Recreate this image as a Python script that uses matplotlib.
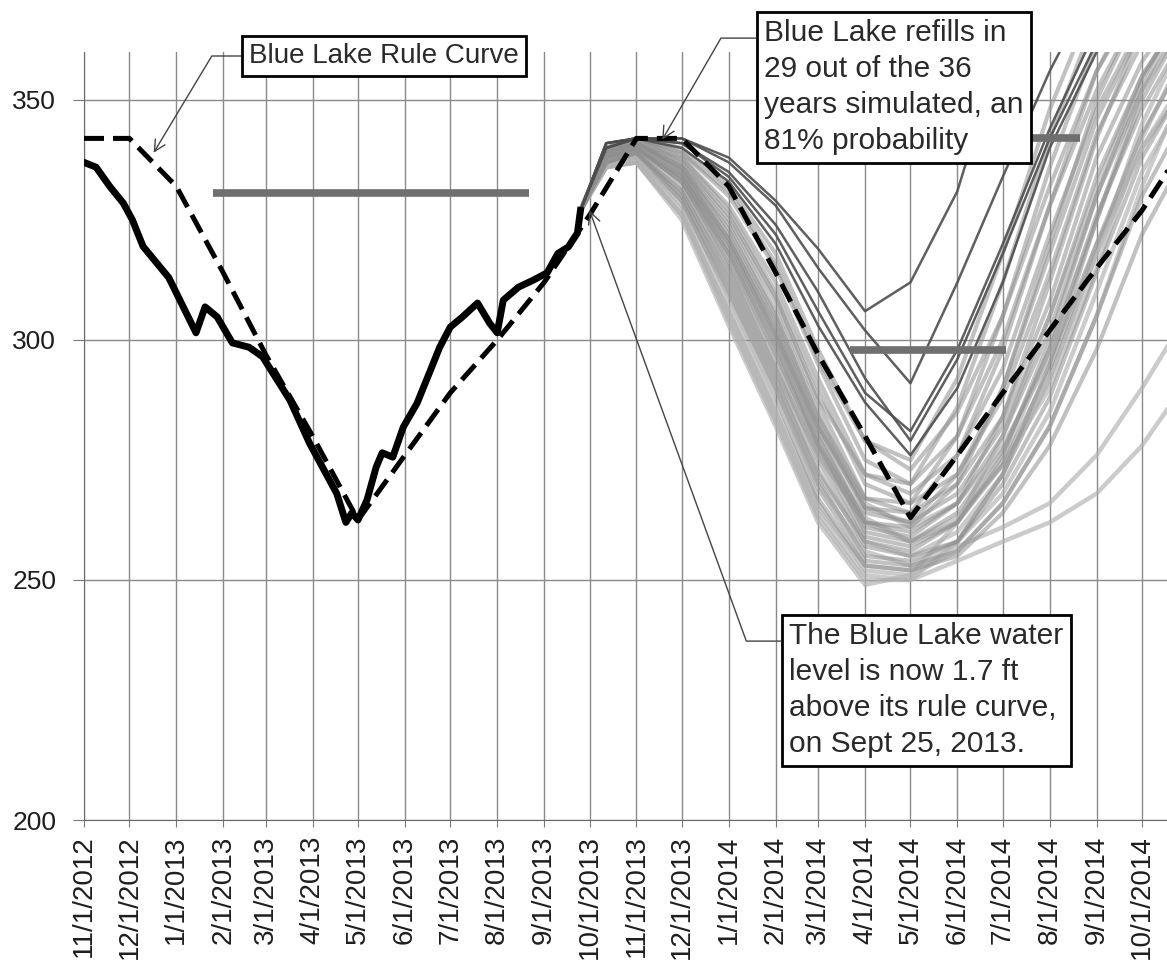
import matplotlib
matplotlib.use('Agg')
import matplotlib.pyplot as plt
import pandas as pd

plt.rcParams['font.family'] = ['Liberation Sans', 'DejaVu Sans']

# observed Blue Lake water level (ft)
obs_dates = ['2012-11-01', '2012-11-09', '2012-11-18', '2012-11-27', '2012-12-03', '2012-12-10',
             '2012-12-27', '2013-01-14', '2013-01-20', '2013-01-28', '2013-02-07', '2013-02-18',
             '2013-02-27', '2013-03-17', '2013-03-30', '2013-04-17', '2013-04-23', '2013-04-27',
             '2013-05-01', '2013-05-07', '2013-05-13', '2013-05-17', '2013-05-24', '2013-05-31',
             '2013-06-09', '2013-06-17', '2013-06-24', '2013-07-01', '2013-07-09', '2013-07-19',
             '2013-07-27', '2013-08-01', '2013-08-05', '2013-08-15', '2013-08-25', '2013-09-03',
             '2013-09-10', '2013-09-17', '2013-09-23', '2013-09-25']
obs_level = [337, 336, 332, 328.5, 325, 319.5,
             313, 301.5, 306.9, 304.8, 299.4, 298.5,
             296.5, 287.5, 278.5, 268, 262, 264,
             262.5, 266.7, 273.5, 276.5, 275.6, 281.9,
             286.8, 293, 298.5, 302.7, 304.8, 307.7,
             303.5, 301.5, 308.3, 311, 312.5, 314,
             318, 319.4, 322.3, 327]

# rule curve (ft)
rule_dates = ['2012-11-01', '2012-12-01', '2013-01-01', '2013-02-01', '2013-03-01', '2013-04-01',
              '2013-05-01', '2013-06-01', '2013-07-01', '2013-08-01', '2013-09-01', '2013-10-01',
              '2013-11-01', '2013-12-01', '2014-01-01', '2014-02-01', '2014-03-01', '2014-04-01',
              '2014-05-01', '2014-06-01', '2014-07-01', '2014-08-01', '2014-09-01', '2014-10-01',
              '2014-11-01']
rule_level = [342, 342, 332, 314, 297, 280,
              262.5, 276, 289, 300, 312, 326,
              342, 342, 332, 314, 297, 280,
              263, 276, 289, 302, 315, 327,
              342]

# simulated water year 2014, one row per historical year
sim_dates = ['2013-09-25', '2013-10-12', '2013-11-01', '2013-12-01', '2014-01-01', '2014-02-01',
             '2014-03-01', '2014-04-01', '2014-05-01', '2014-06-01', '2014-07-01', '2014-08-01',
             '2014-09-01', '2014-10-01', '2014-11-01']
sim_upper = [
    [327, 341, 342, 342, 338, 329, 319, 306, 312, 331, 362, 380, 380, 380, 380],
    [327, 341, 342, 342, 337, 328, 315, 302, 291, 312, 334, 356, 375, 380, 380],
    [327, 341, 342, 341, 335, 324, 310, 292, 279, 296, 318, 342, 362, 378, 380],
    [327, 340, 342, 341, 334, 322, 306, 289, 281, 298, 320, 344, 365, 380, 380],
    [327, 340, 342, 340, 333, 320, 303, 287, 276, 290, 312, 340, 360, 376, 380],
]
sim_middle = [
    [327, 340, 342, 340, 332, 318, 298, 279, 273, 285, 305, 332, 356, 372, 380],
    [327, 340, 342, 339, 330, 315, 295, 275, 270, 280, 300, 328, 352, 370, 380],
    [327, 340, 342, 338, 328, 312, 292, 272, 268, 276, 294, 322, 348, 366, 378],
    [327, 339, 341, 338, 327, 310, 290, 270, 266, 272, 288, 314, 343, 362, 376],
    [327, 339, 341, 337, 325, 308, 287, 267, 264, 270, 284, 308, 338, 358, 372],
    [327, 339, 341, 336, 324, 306, 285, 265, 262, 268, 282, 305, 334, 355, 370],
    [327, 339, 341, 336, 322, 304, 283, 264, 262, 272, 290, 318, 346, 365, 378],
    [327, 339, 341, 335, 321, 302, 281, 262, 260, 266, 280, 302, 330, 352, 368],
    [327, 338, 340, 334, 319, 300, 279, 260, 258, 264, 277, 298, 326, 348, 365],
    [327, 338, 340, 334, 318, 298, 277, 259, 257, 262, 274, 294, 320, 343, 360],
    [327, 338, 340, 333, 316, 296, 275, 258, 256, 262, 276, 300, 330, 354, 372],
    [327, 338, 340, 332, 315, 294, 273, 257, 255, 258, 270, 288, 314, 338, 355],
    [327, 337, 339, 331, 313, 292, 271, 255, 254, 258, 272, 295, 325, 350, 368],
    [327, 337, 339, 330, 311, 290, 269, 254, 253, 256, 266, 282, 305, 330, 348],
    [327, 337, 339, 329, 309, 288, 267, 253, 252, 255, 264, 278, 298, 322, 340],
    [327, 340, 342, 337, 326, 309, 288, 272, 270, 286, 312, 342, 368, 380, 380],
    [327, 340, 341, 336, 323, 305, 284, 267, 266, 280, 305, 336, 362, 378, 380],
    [327, 339, 341, 335, 321, 303, 282, 265, 264, 276, 298, 328, 356, 374, 380],
    [327, 339, 340, 334, 320, 301, 280, 262, 261, 270, 290, 320, 350, 370, 380],
    [327, 338, 340, 333, 318, 299, 278, 261, 259, 266, 284, 312, 342, 365, 380],
    [327, 340, 342, 339, 331, 316, 296, 279, 275, 292, 318, 348, 372, 380, 380],
]
sim_lower = [
    [327, 337, 338, 328, 307, 286, 266, 252, 251, 256, 266, 282, 305, 332, 355],
    [327, 336, 338, 327, 305, 284, 264, 251, 250, 254, 258, 262, 268, 278, 292],
    [327, 336, 337, 326, 304, 283, 263, 250, 250, 258, 272, 292, 318, 345, 365],
    [327, 336, 337, 325, 303, 282, 262, 249, 251, 262, 280, 305, 332, 355, 370],
    [327, 337, 338, 329, 310, 290, 270, 256, 253, 258, 268, 285, 310, 335, 352],
    [327, 337, 339, 330, 312, 292, 272, 258, 255, 260, 272, 292, 318, 340, 356],
    [327, 338, 339, 331, 314, 294, 276, 262, 258, 263, 274, 290, 315, 342, 362],
    [327, 338, 340, 333, 317, 297, 278, 263, 258, 262, 275, 298, 325, 352, 372],
    [327, 339, 341, 335, 320, 301, 282, 266, 261, 266, 278, 296, 320, 340, 354],
    [327, 336, 337, 326, 306, 285, 265, 253, 252, 257, 261, 266, 276, 290, 306],
]

# horizontal markers
bar_starts = ['2013-01-25', '2014-03-22', '2014-07-01']
bar_ends = ['2013-08-22', '2014-07-03', '2014-08-21']
bar_levels = [330.6, 297.9, 342.1]

tick_dates = pd.date_range('2012-11-01', '2014-10-01', freq='MS')
tick_labels = [f'{d.month}/{d.day}/{d.year}' for d in tick_dates]

fig = plt.figure(figsize=(11.67, 9.71), dpi=100)
ax = fig.add_axes([84 / 1167, 1 - 820 / 971, 1 - 84 / 1167, 768 / 971])

sd = pd.to_datetime(sim_dates)
for row in sim_lower:
    ax.plot(sd, row, color='#b0b0b0', lw=3.2, alpha=0.65, solid_capstyle='round', zorder=2)
for row in sim_middle:
    ax.plot(sd, row, color='#8f8f8f', lw=3.0, alpha=0.55, solid_capstyle='round', zorder=3)
for row in sim_upper:
    ax.plot(sd, row, color='#4d4d4d', lw=1.8, alpha=0.9, zorder=4)

for s, e, v in zip(bar_starts, bar_ends, bar_levels):
    ax.plot(pd.to_datetime([s, e]), [v, v], color='#6f6f6f', lw=5.5, solid_capstyle='butt', zorder=5)

ax.plot(pd.to_datetime(rule_dates), rule_level, color='black', lw=3.6, dashes=(4, 1.8), zorder=6)
ax.plot(pd.to_datetime(obs_dates), obs_level, color='black', lw=5, solid_joinstyle='round', zorder=7)

ax.set_xlim(pd.Timestamp('2012-11-01'), pd.Timestamp('2014-10-17 12:00'))
ax.set_ylim(200, 360)
ax.set_yticks([200, 250, 300, 350])
ax.set_xticks(tick_dates)
ax.set_xticklabels(tick_labels, rotation=90)
ax.grid(True, color='#8a8a8a', lw=1)
ax.set_axisbelow(True)
for side in ['top', 'right']:
    ax.spines[side].set_visible(False)
for side in ['left', 'bottom']:
    ax.spines[side].set_color('#6a6a6a')
ax.tick_params(axis='y', length=8, color='#7a7a7a', pad=12, labelsize=19, labelcolor='#1e1e1e')
ax.tick_params(axis='x', length=5, color='#7a7a7a', pad=6, labelsize=20, labelcolor='#1e1e1e')

box = dict(boxstyle='square,pad=0.25', fc='white', ec='black', lw=2)
arrow = dict(arrowstyle='->,head_length=0.4,head_width=0.2', color='#444444', lw=1,
             shrinkA=0, shrinkB=0)

ax.annotate('Blue Lake Rule Curve', xy=(pd.Timestamp('2012-12-17'), 339), xycoords='data',
            xytext=(249, 915), textcoords='figure pixels', ha='left', va='center',
            fontsize=20, color='#2a2a2a', bbox=box, zorder=10,
            arrowprops=dict(arrow, relpos=(0, 0.5), connectionstyle='angle,angleA=0,angleB=59'))

ax.annotate('Blue Lake refills in\n29 out of the 36\nyears simulated, an\n81% probability',
            xy=(pd.Timestamp('2013-11-18'), 341.7), xycoords='data',
            xytext=(764, 952), textcoords='figure pixels', ha='left', va='top',
            fontsize=21.5, color='#2a2a2a', linespacing=1.37, bbox=box, zorder=10,
            arrowprops=dict(arrow, relpos=(0, 0.86), connectionstyle='angle,angleA=0,angleB=60'))

ax.annotate('The Blue Lake water\nlevel is now 1.7 ft\nabove its rule curve,\non Sept 25, 2013.',
            xy=(pd.Timestamp('2013-10-01'), 327), xycoords='data',
            xytext=(789, 349), textcoords='figure pixels', ha='left', va='top',
            fontsize=21.5, color='#2a2a2a', linespacing=1.37, bbox=box, zorder=10,
            arrowprops=dict(arrow, relpos=(0, 0.86), connectionstyle='angle,angleA=0,angleB=110'))

fig.savefig('out.png', dpi=100)
